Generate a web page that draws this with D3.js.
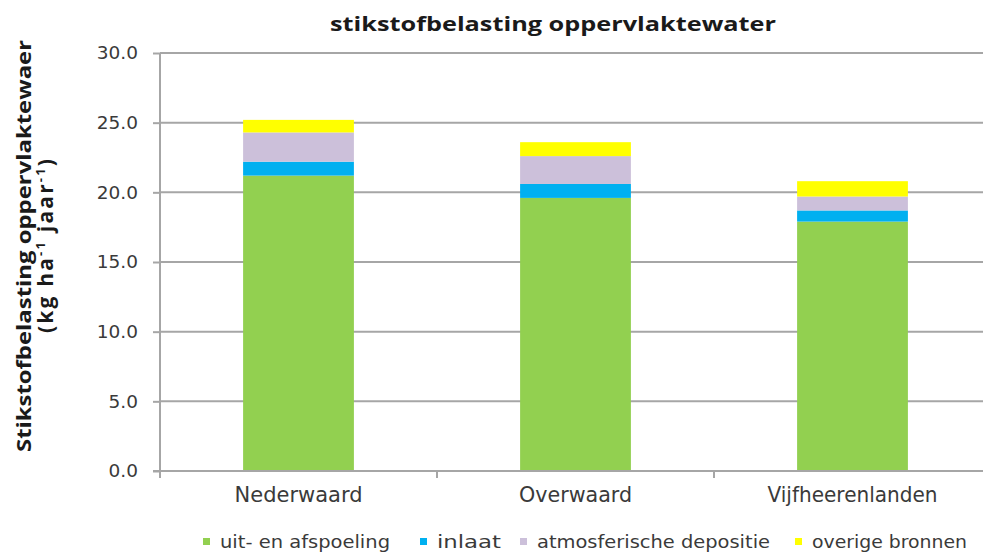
<!DOCTYPE html>
<html>
<head>
<meta charset="utf-8">
<script src="https://cdn.jsdelivr.net/npm/d3@7"></script>
<style>
  html, body { margin: 0; padding: 0; background: #fff; }
  svg { display: block; }
</style>
</head>
<body>
<svg id="chart" width="983" height="554"></svg>
<script>
// Nitrogen load on surface water per district (kg ha-1 jaar-1)
const categories = ["Nederwaard", "Overwaard", "Vijfheerenlanden"];
const seriesNames = ["uit- en afspoeling", "inlaat", "atmosferische depositie", "overige bronnen"];
const uitEnAfspoeling = [21.2, 19.6, 17.9];
const inlaat = [1.0, 1.0, 0.8];
const atmosferischeDepositie = [2.1, 2.0, 1.0];
const overigeBronnen = [0.9, 1.0, 1.1];
const yTicks = [0, 5, 10, 15, 20, 25, 30];
const colors = ["#92d050", "#00b0f0", "#ccc0da", "#ffff00"];

const seriesValues = [uitEnAfspoeling, inlaat, atmosferischeDepositie, overigeBronnen];
const rows = categories.map((c, i) => {
  const r = { category: c };
  seriesNames.forEach((s, j) => { r[s] = seriesValues[j][i]; });
  return r;
});
const stacked = d3.stack().keys(seriesNames)(rows);

const svg = d3.select("#chart");
const plotLeft = 160, plotRight = 991, plotTop = 53, plotBottom = 471;

const x = d3.scaleBand().domain(categories).range([plotLeft, plotRight])
  .paddingInner(0.6).paddingOuter(0.3);
const y = d3.scaleLinear().domain([0, 30]).range([plotBottom, plotTop]);

const grey = "#a6a6a6";
const textGrey = "#3a3a3a";
const tickFont = "'DejaVu Sans', Verdana, sans-serif";

// horizontal gridlines
svg.append("g").selectAll("line")
  .data(yTicks.filter(t => t > 0))
  .join("line")
  .attr("x1", plotLeft).attr("x2", plotRight)
  .attr("y1", d => y(d)).attr("y2", d => y(d))
  .attr("stroke", grey).attr("stroke-width", 2);

// stacked bars
svg.append("g").selectAll("g")
  .data(stacked)
  .join("g")
  .attr("fill", (d, i) => colors[i])
  .selectAll("rect")
  .data(d => d)
  .join("rect")
  .attr("x", d => x(d.data.category))
  .attr("width", x.bandwidth())
  .attr("y", d => y(d[1]))
  .attr("height", d => y(d[0]) - y(d[1]));

// y axis
const yAxis = d3.axisLeft(y).tickValues(yTicks).tickFormat(d3.format(".1f"))
  .tickSize(7).tickPadding(15);
const gy = svg.append("g").attr("transform", `translate(${plotLeft},0)`).call(yAxis);
gy.select(".domain").attr("stroke", grey).attr("stroke-width", 2)
  .attr("d", `M0,${plotTop}V${plotBottom}`);
gy.selectAll(".tick line").attr("stroke", grey).attr("stroke-width", 2);
gy.selectAll(".tick text")
  .attr("font-family", tickFont).attr("font-size", 18.5).attr("fill", textGrey);

// x axis
const xAxis = d3.axisBottom(x).tickSize(0).tickPadding(16);
const gx = svg.append("g").attr("transform", `translate(0,${plotBottom})`).call(xAxis);
gx.select(".domain").attr("stroke", grey).attr("stroke-width", 2)
  .attr("d", `M${plotLeft - 7},0H${plotRight}`);
const catWidths = { "Nederwaard": 128, "Overwaard": 113, "Vijfheerenlanden": 170 };
gx.selectAll(".tick text")
  .attr("font-family", tickFont).attr("font-size", 20.5).attr("fill", textGrey)
  .attr("textLength", d => catWidths[d]).attr("lengthAdjust", "spacingAndGlyphs");
// category separator ticks
const step = x.step();
const sepPos = [plotLeft, plotLeft + step, plotLeft + 2 * step];
gx.append("g").selectAll("line").data(sepPos).join("line")
  .attr("x1", d => d).attr("x2", d => d).attr("y1", 0).attr("y2", 7)
  .attr("stroke", grey).attr("stroke-width", 2);

// title
svg.append("text")
  .attr("x", 553).attr("y", 31)
  .attr("text-anchor", "middle")
  .attr("font-family", "'Open Sans', sans-serif")
  .attr("font-weight", "bold").attr("font-size", 19)
  .attr("fill", "#1a1a1a")
  .attr("textLength", 446).attr("lengthAdjust", "spacingAndGlyphs")
  .text("stikstofbelasting oppervlaktewater");

// y axis title (two lines)
const yt = svg.append("g").attr("transform", "translate(0,246) rotate(-90)")
  .attr("font-family", "'Open Sans', sans-serif").attr("font-weight", "bold")
  .attr("fill", "#1a1a1a").attr("text-anchor", "middle");
yt.append("text").attr("x", 0).attr("y", 31).attr("font-size", 19)
  .attr("textLength", 412).attr("lengthAdjust", "spacingAndGlyphs")
  .text("Stikstofbelasting oppervlaktewaer");
const l2 = yt.append("text").attr("x", 0).attr("y", 53).attr("font-size", 21)
  .attr("textLength", 174).attr("lengthAdjust", "spacing");
l2.append("tspan").text("(kg ha");
l2.append("tspan").attr("font-size", 13).attr("dy", -8).text("-1");
l2.append("tspan").attr("dy", 8).text(" jaar");
l2.append("tspan").attr("font-size", 13).attr("dy", -8).text("-1");
l2.append("tspan").attr("dy", 8).text(")");

// legend
const legendX = [203, 420, 520, 795];
const legendWidths = [170, 64, 233, 155];
const lg = svg.append("g").selectAll("g").data(seriesNames).join("g")
  .attr("transform", (d, i) => `translate(${legendX[i]},538)`);
lg.append("rect").attr("width", 7).attr("height", 7)
  .attr("fill", (d, i) => colors[i]);
lg.append("text").attr("x", 17).attr("y", 9.5)
  .attr("font-family", tickFont).attr("font-size", 18.5).attr("fill", textGrey)
  .attr("textLength", (d, i) => legendWidths[i]).attr("lengthAdjust", "spacingAndGlyphs")
  .text(d => d);
</script>
</body>
</html>
